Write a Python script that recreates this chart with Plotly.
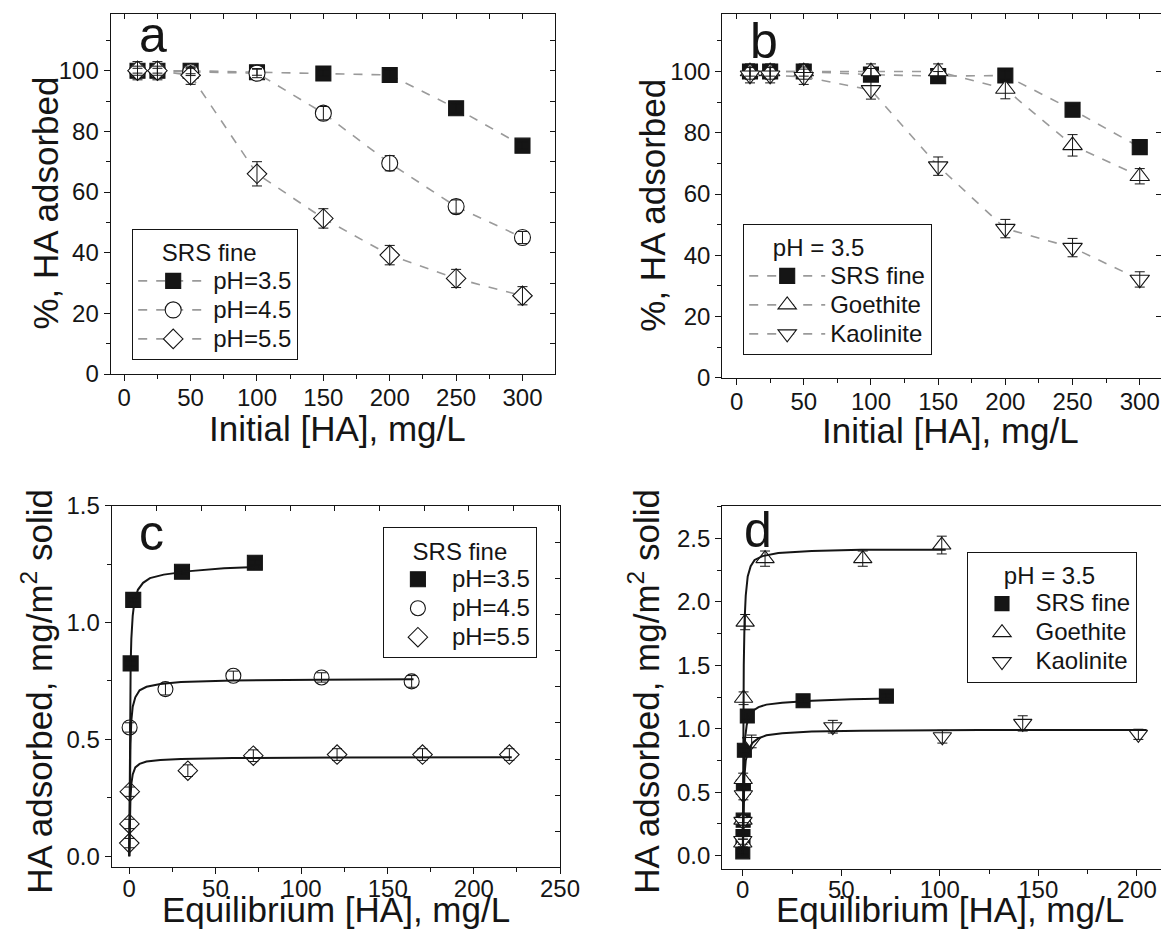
import plotly.graph_objects as go

# ---------------- data ----------------
initial_ha = [10, 25, 50, 100, 150, 200, 250, 300]

# panel a : SRS fine at three pH values, % adsorbed
a_ph35 = [100, 100, 100, 99.5, 99.1, 98.6, 87.6, 75.3]
a_ph35_err = [0.8, 0.8, 1.0, 1.0, 1.0, 1.5, 1.5, 1.2]
a_ph45 = [100, 100, 99.6, 99.2, 86.0, 69.5, 55.2, 45.0]
a_ph45_err = [1.5, 1.5, 1.2, 1.5, 2.2, 2.5, 2.2, 2.0]
a_ph55 = [100, 100, 98.5, 66.0, 51.3, 39.2, 31.5, 25.8]
a_ph55_err = [3.0, 3.0, 3.0, 4.0, 3.2, 3.2, 3.0, 3.0]

# panel b : three solids at pH 3.5, % adsorbed
b_srs = [100, 100, 100, 99.0, 98.5, 98.7, 87.5, 75.3]
b_srs_err = [1.5, 1.5, 1.5, 2.0, 1.5, 1.5, 1.2, 1.2]
b_goethite = [100, 100, 100, 100, 100, 94.3, 75.9, 65.8]
b_goethite_err = [2.5, 2.5, 2.5, 2.5, 2.5, 3.2, 3.5, 2.5]
b_kaolinite = [98.8, 98.8, 98.3, 94.0, 69.1, 48.7, 42.5, 32.1]
b_kaolinite_err = [2.5, 2.5, 2.5, 3.0, 3.0, 3.0, 3.0, 2.5]

# panel c : isotherms, SRS fine
c_ph35_x = [0.8, 2.3, 30.6, 72.9]
c_ph35_y = [0.825, 1.097, 1.217, 1.256]
c_ph35_err = [0.01, 0.01, 0.01, 0.01]
c_ph45_x = [0.2, 21.0, 60.4, 111.6, 163.9]
c_ph45_y = [0.551, 0.715, 0.772, 0.765, 0.748]
c_ph45_err = [0.02, 0.025, 0.02, 0.02, 0.025]
c_ph55_x = [0.0, 0.1, 0.3, 34.0, 72.0, 120.6, 170.2, 220.6]
c_ph55_y = [0.056, 0.138, 0.276, 0.366, 0.430, 0.435, 0.435, 0.435]
c_ph55_err = [0.02, 0.02, 0.02, 0.025, 0.025, 0.025, 0.025, 0.025]

# fitted curves in panel c
c_fit35_x = [0, 0.2, 0.5, 0.8, 1.2, 2, 3, 5, 8, 12, 20, 35, 55, 75]
c_fit35_y = [0, 0.35, 0.65, 0.82, 0.93, 1.03, 1.09, 1.14, 1.17, 1.19, 1.205, 1.22, 1.232, 1.238]
c_fit45_x = [0, 0.3, 0.7, 1.2, 2, 3.5, 6, 10, 18, 30, 60, 110, 165]
c_fit45_y = [0, 0.3, 0.48, 0.58, 0.64, 0.68, 0.71, 0.725, 0.737, 0.745, 0.752, 0.755, 0.757]
c_fit55_x = [0, 0.3, 0.7, 1.2, 2, 3.5, 6, 10, 18, 30, 60, 120, 222]
c_fit55_y = [0, 0.15, 0.25, 0.31, 0.35, 0.38, 0.395, 0.405, 0.412, 0.416, 0.42, 0.422, 0.423]

# panel d : isotherms, three solids at pH 3.5
d_srs_x = [0.0, 0.1, 0.2, 0.3, 0.8, 2.3, 30.6, 72.9]
d_srs_y = [0.03, 0.15, 0.28, 0.54, 0.83, 1.10, 1.22, 1.257]
d_srs_err = [0.02, 0.02, 0.02, 0.02, 0.02, 0.02, 0.02, 0.02]
d_goethite_x = [0.0, 0.1, 0.2, 0.4, 1.2, 11.3, 60.9, 101.0]
d_goethite_y = [0.10, 0.28, 0.60, 1.24, 1.84, 2.34, 2.34, 2.447]
d_goethite_err = [0.03, 0.04, 0.05, 0.05, 0.06, 0.06, 0.06, 0.07]
d_kaolinite_x = [0.0, 0.1, 0.3, 4.5, 45.7, 101.3, 142.1, 200.8]
d_kaolinite_y = [0.12, 0.27, 0.48, 0.90, 1.016, 0.937, 1.042, 0.956]
d_kaolinite_err = [0.03, 0.03, 0.04, 0.05, 0.05, 0.05, 0.06, 0.04]

d_fitsrs_x = [0, 0.2, 0.5, 0.8, 1.2, 2, 3, 5, 8, 12, 20, 35, 55, 75]
d_fitsrs_y = [0, 0.35, 0.65, 0.82, 0.93, 1.03, 1.09, 1.14, 1.17, 1.19, 1.205, 1.22, 1.232, 1.238]
d_fitgoe_x = [0, 0.2, 0.5, 0.9, 1.5, 2.5, 4, 6, 10, 18, 35, 60, 103]
d_fitgoe_y = [0, 0.9, 1.5, 1.85, 2.05, 2.2, 2.28, 2.33, 2.36, 2.385, 2.40, 2.41, 2.41]
d_fitkao_x = [0, 0.3, 0.8, 1.5, 3, 5, 8, 12, 20, 35, 60, 120, 205]
d_fitkao_y = [0, 0.4, 0.62, 0.75, 0.84, 0.89, 0.925, 0.948, 0.965, 0.978, 0.985, 0.99, 0.99]

# ---------------- style / layout ----------------
# The page body keeps the browser's 8 px margin, so the figure is 16 px smaller
# than the window and every page-pixel position below is shifted by OFF.
PAGE_W, PAGE_H, OFF = 1169, 938, 8
W, H = PAGE_W - 2 * OFF, PAGE_H - 2 * OFF
FONT = "Liberation Sans, Arial, Helvetica, sans-serif"
INK = "#151515"
GRAY = "#9a9a9a"


def px_x(p):
    return (p - OFF) / W


def px_y(p):
    return 1 - (p - OFF) / H


def dom_x(p0, p1):
    return [max(0.0, px_x(p0)), min(1.0, px_x(p1))]


def dom_y(p0, p1):  # p0 top pixel, p1 bottom pixel
    return [px_y(p1), px_y(p0)]


RIGHT = PAGE_W - OFF  # last page pixel the figure reaches
boxes = {
    "a": (110.7, 555.4, 14, 374),
    "b": (722.3, RIGHT, 14, 377.7),
    "c": (111.7, 560.0, 505.7, 866.7),
    "d": (722.3, RIGHT, 505.7, 869.0),
}

fig = go.Figure()


def add_err(x, y, err, xa, ya):
    fig.add_trace(go.Scatter(
        x=x, y=y, mode="markers", xaxis=xa, yaxis=ya, showlegend=False, hoverinfo="skip",
        marker=dict(size=1, color="rgba(0,0,0,0)"),
        error_y=dict(type="data", array=err, visible=True, color=INK, thickness=1, width=5),
    ))


def lname(s):
    return '<span style="font-size:24px">' + s + "</span>"


# ---- panel a
series_a = [
    ("pH=3.5", a_ph35, a_ph35_err, "square", 15, INK),
    ("pH=4.5", a_ph45, a_ph45_err, "circle", 16, "white"),
    ("pH=5.5", a_ph55, a_ph55_err, "diamond", 15, "white"),
]
for name, y, e, sym, sz, fill in series_a:
    fig.add_trace(go.Scatter(
        x=initial_ha, y=y, name=lname(name), mode="lines+markers", xaxis="x", yaxis="y", legend="legend",
        line=dict(color=GRAY, width=1.6, dash="dash"),
        marker=dict(symbol=sym, size=sz, color=fill, line=dict(color=INK, width=1.1)),
    ))
for name, y, e, sym, sz, fill in series_a:
    add_err(initial_ha, y, e, "x", "y")

# ---- panel b
series_b = [
    ("SRS fine", b_srs, b_srs_err, "square", 15, INK),
    ("Goethite", b_goethite, b_goethite_err, "triangle-up", 17, "white"),
    ("Kaolinite", b_kaolinite, b_kaolinite_err, "triangle-down", 17, "white"),
]
for name, y, e, sym, sz, fill in series_b:
    fig.add_trace(go.Scatter(
        x=initial_ha, y=y, name=lname(name), mode="lines+markers", xaxis="x2", yaxis="y2", legend="legend2",
        line=dict(color=GRAY, width=1.6, dash="dash"),
        marker=dict(symbol=sym, size=sz, color=fill, line=dict(color=INK, width=1.1)),
    ))
for name, y, e, sym, sz, fill in series_b:
    add_err(initial_ha, y, e, "x2", "y2")

# ---- panel c
series_c = [
    ("pH=3.5", c_ph35_x, c_ph35_y, c_ph35_err, "square", 15, INK),
    ("pH=4.5", c_ph45_x, c_ph45_y, c_ph45_err, "circle", 15, "white"),
    ("pH=5.5", c_ph55_x, c_ph55_y, c_ph55_err, "diamond", 15, "white"),
]
for name, x, y, e, sym, sz, fill in series_c:
    fig.add_trace(go.Scatter(
        x=x, y=y, name=lname(name), mode="markers", xaxis="x3", yaxis="y3", legend="legend3",
        marker=dict(symbol=sym, size=sz, color=fill, line=dict(color=INK, width=1.1)),
    ))
for fx, fy in [(c_fit35_x, c_fit35_y), (c_fit45_x, c_fit45_y), (c_fit55_x, c_fit55_y)]:
    fig.add_trace(go.Scatter(x=fx, y=fy, mode="lines", xaxis="x3", yaxis="y3", showlegend=False,
                             line=dict(color=INK, width=2), hoverinfo="skip"))
for name, x, y, e, sym, sz, fill in series_c:
    add_err(x, y, e, "x3", "y3")

# ---- panel d
series_d = [
    ("SRS fine", d_srs_x, d_srs_y, d_srs_err, "square", 14, INK),
    ("Goethite", d_goethite_x, d_goethite_y, d_goethite_err, "triangle-up", 16, "white"),
    ("Kaolinite", d_kaolinite_x, d_kaolinite_y, d_kaolinite_err, "triangle-down", 16, "white"),
]
for name, x, y, e, sym, sz, fill in series_d:
    fig.add_trace(go.Scatter(
        x=x, y=y, name=lname(name), mode="markers", xaxis="x4", yaxis="y4", legend="legend4",
        marker=dict(symbol=sym, size=sz, color=fill, line=dict(color=INK, width=1.1)),
    ))
for fx, fy in [(d_fitsrs_x, d_fitsrs_y), (d_fitgoe_x, d_fitgoe_y), (d_fitkao_x, d_fitkao_y)]:
    fig.add_trace(go.Scatter(x=fx, y=fy, mode="lines", xaxis="x4", yaxis="y4", showlegend=False,
                             line=dict(color=INK, width=2), hoverinfo="skip"))
for name, x, y, e, sym, sz, fill in series_d:
    add_err(x, y, e, "x4", "y4")

# empty helper traces so that the inner (top / right) tick axes get drawn
for xa_, ya_ in [("x5", "y"), ("x", "y5"), ("x6", "y2"), ("x2", "y6"), ("x7", "y3"), ("x3", "y7")]:
    fig.add_trace(go.Scatter(x=[None], y=[None], xaxis=xa_, yaxis=ya_, mode="markers",
                             showlegend=False, hoverinfo="skip"))


# ---- axes
def main_axis(dom, rng, dtick, mdtick, anchor, mirror=True, standoff=0):
    return dict(
        domain=dom, range=rng, anchor=anchor, tick0=0, dtick=dtick,
        ticks="outside", ticklen=6, tickwidth=1.2, tickcolor=INK,
        minor=dict(tick0=0, dtick=mdtick, ticks="outside", ticklen=4, tickwidth=1.2, tickcolor=INK),
        showline=True, linecolor=INK, linewidth=1.3, mirror=mirror,
        showgrid=False, zeroline=False, automargin=False, ticklabelstandoff=standoff,
        tickfont=dict(size=24, family=FONT, color=INK),
    )


def inner_axis(over, anchor, side, rng, tick0, dtick):
    return dict(overlaying=over, anchor=anchor, side=side, range=rng, tick0=tick0, dtick=dtick,
                ticks="inside", ticklen=5, tickwidth=1.2, tickcolor=INK, showticklabels=False,
                showline=False, showgrid=False, zeroline=False, automargin=False)


xa = [-10.2, 324.8]
xb = [-10.6, -10.6 + (RIGHT - 722.3) / 1.344]
xc = [-10.2, 250.0]
xd = [-10.4, -10.4 + (RIGHT - 722.3) / 1.97]
ya, yb, yc, yd = [0, 118.7], [0, 118.8], [-0.045, 1.5], [-0.105, 2.757]

A, B, C, D = boxes["a"], boxes["b"], boxes["c"], boxes["d"]
layout = dict(
    width=W, height=H, margin=dict(l=0, r=0, t=0, b=0),
    paper_bgcolor="white", plot_bgcolor="white",
    font=dict(family=FONT, color=INK),
    xaxis=main_axis(dom_x(A[0], A[1]), xa, 50, 25, "y", standoff=-4),
    yaxis=main_axis(dom_y(A[2], A[3]), ya, 20, 10, "x"),
    xaxis2=main_axis(dom_x(B[0], B[1]), xb, 50, 25, "y2", standoff=-4),
    yaxis2=main_axis(dom_y(B[2], B[3]), yb, 20, 10, "x2", mirror=False),
    xaxis3=main_axis(dom_x(C[0], C[1]), xc, 50, 25, "y3", standoff=-6),
    yaxis3=main_axis(dom_y(C[2], C[3]), yc, 0.5, 0.25, "x3"),
    xaxis4=main_axis(dom_x(D[0], D[1]), xd, 50, 25, "y4", standoff=-7),
    yaxis4=main_axis(dom_y(D[2], D[3]), yd, 0.5, 0.25, "x4", mirror=False),
    xaxis5=inner_axis("x", "y", "top", xa, 0, 25),
    yaxis5=inner_axis("y", "x", "right", ya, 0, 10),
    xaxis6=inner_axis("x2", "y2", "top", xb, 0, 25),
    yaxis6=inner_axis("y2", "x2", "right", yb, 0, 20),
    xaxis7=inner_axis("x3", "y3", "top", xc, 15.8, 25.9),
    yaxis7=inner_axis("y3", "x3", "right", yc, 0.107, 0.1544),
)
for key in ["yaxis3", "yaxis4"]:
    layout[key]["tickformat"] = ".1f"


def legend_box(px, py, title, itemwidth):
    return dict(
        x=px_x(px), y=px_y(py), xanchor="left", yanchor="top",
        bordercolor=INK, borderwidth=1.2, bgcolor="white",
        font=dict(size=20, family=FONT, color=INK),
        title=dict(text=title, font=dict(size=24, family=FONT, color=INK)),
        itemwidth=itemwidth, tracegroupgap=0, itemsizing="trace",
    )


nb = "\u00a0"
layout["legend"] = legend_box(132, 229, nb * 4 + "SRS fine", 70)
layout["legend2"] = legend_box(743, 224, nb * 4 + "pH = 3.5", 76)
layout["legend3"] = legend_box(382.7, 527.3, nb * 4 + "SRS fine", 58)
layout["legend4"] = legend_box(967.3, 551.7, nb * 5 + "pH = 3.5", 57)

annotations = []
letters = [("a", 153, 35), ("b", 764, 41), ("c", 151.7, 533), ("d", 757.7, 529.7)]
for t, px, py in letters:
    annotations.append(dict(text=t, x=px_x(px), y=px_y(py), xref="paper", yref="paper",
                            xanchor="center", yanchor="middle", showarrow=False,
                            font=dict(size=50, family=FONT, color=INK)))

titles = [
    ("Initial [HA], mg/L", 337.5, 428, 0),
    ("Initial [HA], mg/L", 950, 430, 0),
    ("Equilibrium [HA], mg/L", 335.8, 909.5, 0),
    ("Equilibrium [HA], mg/L", 950, 909.5, 0),
    ("%, HA adsorbed", 45, 203.5, -90),
    ("%, HA adsorbed", 653, 205.7, -90),
    ("HA adsorbed, mg/m<sup>2</sup> solid", 37, 691.7, -90),
    ("HA adsorbed, mg/m<sup>2</sup> solid", 644, 691.7, -90),
]
for t, px, py, ang in titles:
    annotations.append(dict(text=t, x=px_x(px), y=px_y(py), xref="paper", yref="paper",
                            xanchor="center", yanchor="middle", showarrow=False, textangle=ang,
                            font=dict(size=35, family=FONT, color=INK)))
layout["annotations"] = annotations

fig.update_layout(**layout)

fig.write_html("out.html", config={"displayModeBar": False})
